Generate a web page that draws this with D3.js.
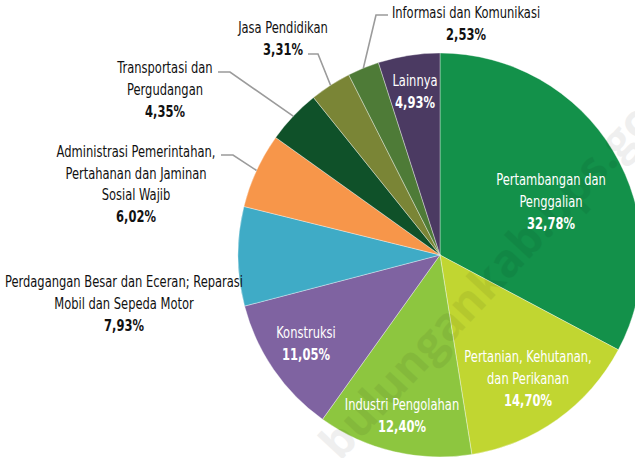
<!DOCTYPE html>
<html>
<head>
<meta charset="utf-8">
<script src="https://cdn.jsdelivr.net/npm/d3@7"></script>
<style>
    body { margin: 0; background: #fff; }
    text { font-family: "DejaVu Sans Condensed", "DejaVu Sans", sans-serif; }
</style>
</head>
<body>
<script>
"use strict";
(function () {
    // Data
    const sectors = [
        "Pertambangan dan Penggalian",
        "Pertanian, Kehutanan, dan Perikanan",
        "Industri Pengolahan",
        "Konstruksi",
        "Perdagangan Besar dan Eceran; Reparasi Mobil dan Sepeda Motor",
        "Administrasi Pemerintahan, Pertahanan dan Jaminan Sosial Wajib",
        "Transportasi dan Pergudangan",
        "Jasa Pendidikan",
        "Informasi dan Komunikasi",
        "Lainnya"
    ]
    const shares = [32.78, 14.70, 12.40, 11.05, 7.93, 6.02, 4.35, 3.31, 2.53, 4.93]
    const shareLabels = ["32,78%", "14,70%", "12,40%", "11,05%", "7,93%", "6,02%", "4,35%", "3,31%", "2,53%", "4,93%"]

    // Colors
    const colors = ["#13914a", "#c1d631", "#8dc63f", "#7f63a1", "#3fabc6",
                    "#f7964a", "#0f5129", "#7a8536", "#4e7b37", "#4b3a62"]

    // Label layout: lines of text, anchor point, text colour, leader elbow
    const labelLayout = [
        { lines: ["Pertambangan dan", "Penggalian"], x: 551, y: 185, inside: true },
        { lines: ["Pertanian, Kehutanan,", "dan Perikanan"], x: 528, y: 362, inside: true },
        { lines: ["Industri Pengolahan"], x: 402, y: 410, inside: true },
        { lines: ["Konstruksi"], x: 306, y: 338, inside: true },
        { lines: ["Perdagangan Besar dan Eceran; Reparasi", "Mobil dan Sepeda Motor"], x: 124, y: 287 },
        { lines: ["Administrasi Pemerintahan,", "Pertahanan dan Jaminan", "Sosial Wajib"], x: 136, y: 157,
          leader: [[221, 155], [233, 155]] },
        { lines: ["Transportasi dan", "Pergudangan"], x: 165, y: 73,
          leader: [[218, 72], [230, 72]] },
        { lines: ["Jasa Pendidikan"], x: 283, y: 33,
          leader: [[308, 54], [318, 54]] },
        { lines: ["Informasi dan Komunikasi"], x: 466, y: 18,
          leader: [[388, 15], [376, 15]] },
        { lines: ["Lainnya"], x: 415, y: 86, inside: true }
    ]

    const measurements = {
        width: 635,
        height: 458,
        cx: 440,
        cy: 255,
        radius: 202,
        lineGap: 21.5,
        squeeze: 0.8
    }

    const svg = d3.select("body").append("svg")
        .attr("width", measurements.width)
        .attr("height", measurements.height)

    const data = sectors.map((s, i) => ({ name: s, value: shares[i], label: shareLabels[i], color: colors[i] }))

    const pie = d3.pie().sort(null).value(d => d.value)
    const arcs = pie(data)
    const arc = d3.arc().innerRadius(0).outerRadius(measurements.radius)

    const g = svg.append("g")
        .attr("transform", "translate(" + measurements.cx + "," + measurements.cy + ")")

    g.selectAll(".slice")
        .data(arcs)
        .enter()
        .append("path")
        .attr("class", "slice")
        .attr("d", arc)
        .attr("fill", d => d.data.color)
        .attr("stroke", "rgba(255,255,255,0.6)")
        .attr("stroke-width", 0.6)

    // Watermark
    svg.append("text")
        .attr("transform", "translate(340,462) rotate(-47)")
        .style("font-family", "'Open Sans', sans-serif")
        .style("font-size", "46px")
        .style("font-weight", "bold")
        .style("fill", "#000")
        .style("opacity", 0.06)
        .text("bulungankab.bps.go.id")

    // Leader lines
    arcs.forEach((d, i) => {
        const lay = labelLayout[i]
        if (!lay.leader) return
        const mid = (d.startAngle + d.endAngle) / 2
        const px = measurements.cx + measurements.radius * Math.sin(mid)
        const py = measurements.cy - measurements.radius * Math.cos(mid)
        const pts = lay.leader.concat([[px, py]])
        svg.append("path")
            .attr("d", d3.line()(pts))
            .attr("fill", "none")
            .attr("stroke", "#9b9b9b")
            .attr("stroke-width", 1.6)
    })

    // Labels (condensed horizontally to mimic the narrow typeface)
    function addText(parent, x, y, str, bold, fill) {
        parent.append("text")
            .attr("transform", "translate(" + x + "," + y + ") scale(" + measurements.squeeze + ",1)")
            .attr("text-anchor", "middle")
            .style("font-size", "16px")
            .style("font-weight", bold ? "bold" : "normal")
            .style("fill", fill)
            .text(str)
    }

    arcs.forEach((d, i) => {
        const lay = labelLayout[i]
        const fill = lay.inside ? "#fff" : "#111"
        const t = svg.append("g")
        lay.lines.forEach((line, j) => {
            addText(t, lay.x, lay.y + j * measurements.lineGap, line, false, fill)
        })
        addText(t, lay.x, lay.y + lay.lines.length * measurements.lineGap + 0.5, d.data.label, true, fill)
    })
})()
</script>
</body>
</html>
